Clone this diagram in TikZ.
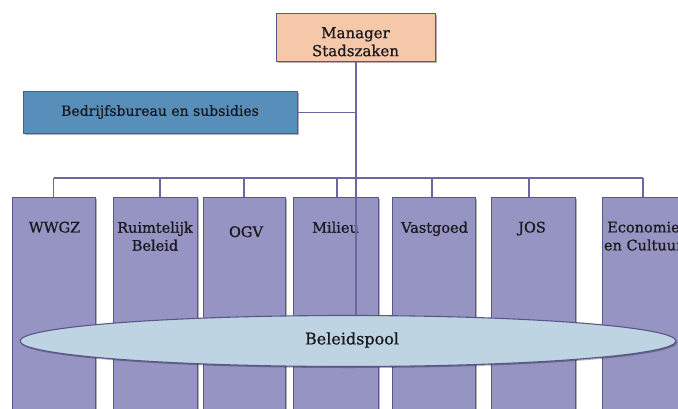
\documentclass[tikz,border=0pt]{standalone}
\usepackage{fontspec}
\setmainfont{DejaVu Serif}
\newfontfamily\labfont{DejaVu Serif}[FakeBold=0.9]
\usetikzlibrary{shadows,shapes.geometric}
\definecolor{linec}{RGB}{108,103,160}
\definecolor{edgec}{RGB}{90,86,138}
\definecolor{mgrfill}{RGB}{246,200,170}
\definecolor{bbfill}{RGB}{88,143,186}
\definecolor{unitfill}{RGB}{149,148,194}
\definecolor{poolfill}{RGB}{190,212,227}
\definecolor{txt}{RGB}{25,25,30}
\tikzset{
  shad/.style={drop shadow={shadow xshift=1.2pt,shadow yshift=-1.5pt,opacity=0.3,fill=black}},
  boxbase/.style={draw=edgec, line width=1.1pt, inner sep=0pt, shad},
  unit/.style={boxbase, fill=unitfill, anchor=north west, minimum height=230pt},
  lbl/.style={text=txt, font=\labfont\fontsize{14.5}{18}\selectfont, align=center, inner sep=0pt, anchor=north},
  conn/.style={draw=linec, line width=1.2pt},
}
\begin{document}
\begin{tikzpicture}[x=1pt,y=-1pt]
\useasboundingbox (0,0) rectangle (678,408);
\clip (0,0) rectangle (678,408);
\fill[white] (0,0) rectangle (678,408);

% top boxes
\node[boxbase, fill=mgrfill, minimum width=159pt, minimum height=48pt, anchor=north west] (mgr) at (276,13) {};
\node[lbl, font=\labfont\fontsize{15}{18}\selectfont] (mgrtxt) at (355.5,27) {Manager\\Stadszaken};
\node[boxbase, fill=bbfill, minimum width=274pt, minimum height=42pt, anchor=north west] (bb) at (23,91) {};
\node[text=txt, font=\labfont\fontsize{14}{17}\selectfont, inner sep=0pt] (bbtxt) at (160,112) {Bedrijfsbureau en subsidies};

% units
\node[unit, minimum width=83pt] (u1) at (12,197) {};
\node[unit, minimum width=84pt] (u2) at (113,197) {};
\node[unit, minimum width=82pt] (u3) at (203,197) {};
\node[unit, minimum width=85pt] (u4) at (293,197) {};
\node[unit, minimum width=83pt] (u5) at (392,197) {};
\node[unit, minimum width=84pt] (u6) at (491,197) {};
\node[unit, minimum width=83pt] (u7) at (602,197) {};

\node[lbl] (l1) at (54.5,221.5) {WWGZ};
\node[lbl] (l2) at (155,221.5) {Ruimtelijk\\Beleid};
\node[lbl] (l3) at (246,226) {OGV};
\node[lbl] (l4) at (335.5,221.5) {Milieu};
\node[lbl] (l5) at (434.5,221.5) {Vastgoed};
\node[lbl] (l6) at (532,221.5) {JOS};
\node[lbl] (l7) at (643.5,221.5) {Economie\\en Cultuur};

% connectors
\coordinate (t1) at (53.5,178);
\coordinate (t2) at (160,178);
\coordinate (t3) at (244,178);
\coordinate (t4) at (337,178);
\coordinate (t5) at (432,178);
\coordinate (t6) at (529,178);
\coordinate (t7) at (643,178);
\coordinate (poolc) at (348,341);
\draw[conn] (t1) -- (t7);
\foreach \i in {1,...,7}{\draw[conn] (t\i) -- (t\i |- u\i.north);}
\draw[conn] (mgr.south) -- (mgr.south |- poolc);
\draw[conn] (bb.east) -- (bb.east -| mgr.south);

% pool
\node[ellipse, draw=edgec, line width=1.1pt, fill=poolfill, minimum width=656pt, minimum height=51pt, inner sep=0pt, shad] (pool) at (poolc) {};
\node[text=txt, font=\labfont\fontsize{16}{19}\selectfont, inner sep=0pt] (pooltxt) at (352,340) {Beleidspool};
\end{tikzpicture}
\end{document}
